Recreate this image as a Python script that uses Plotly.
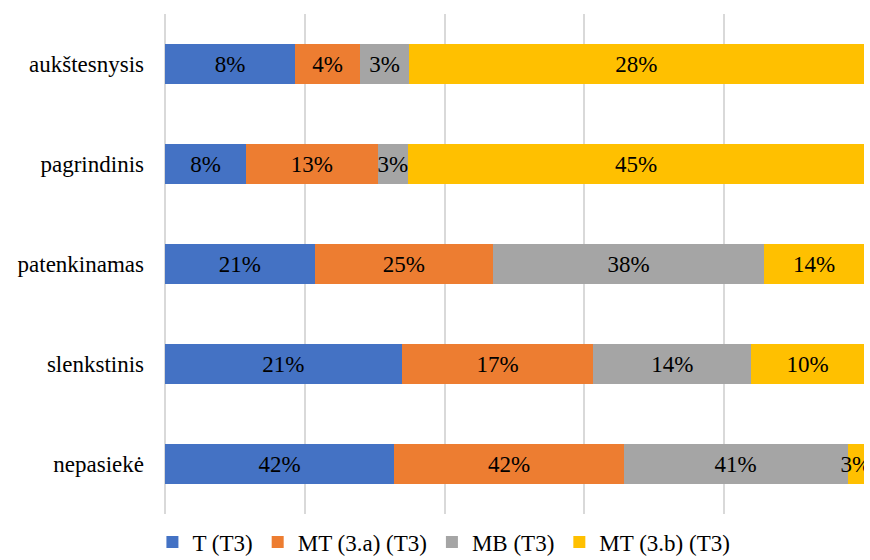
import plotly.graph_objects as go

categories = ["aukštesnysis", "pagrindinis", "patenkinamas", "slenkstinis", "nepasiekė"]
series_names = ["T (T3)", "MT (3.a) (T3)", "MB (T3)", "MT (3.b) (T3)"]
t_vals = [8, 8, 21, 21, 42]
mta_vals = [4, 13, 25, 17, 42]
mb_vals = [3, 3, 38, 14, 41]
mtb_vals = [28, 45, 14, 10, 3]
colors = ["#4472C4", "#ED7D31", "#A5A5A5", "#FFC000"]

FONT = "Liberation Serif"
FS = 23

fig = go.Figure()
for name, vals, col in zip(series_names, [t_vals, mta_vals, mb_vals, mtb_vals], colors):
    fig.add_trace(go.Bar(
        y=categories, x=vals, name=name, orientation="h",
        marker=dict(color=col, line=dict(width=0)),
        text=[f"{v}%" for v in vals], textposition="inside", textangle=0,
        insidetextanchor="middle", constraintext="none",
        textfont=dict(family=FONT, size=FS, color="#000000"),
    ))

fig.update_layout(
    barmode="stack", barnorm="percent", bargap=0.6,
    width=870, height=560,
    margin=dict(l=165, r=6, t=14, b=46, autoexpand=False),
    paper_bgcolor="white", plot_bgcolor="white",
    font=dict(family=FONT, size=FS, color="#000000"),
    uniformtext=dict(minsize=FS, mode="show"),
    xaxis=dict(range=[0, 100], dtick=20, showticklabels=False, showgrid=True,
               gridcolor="#D9D9D9", gridwidth=2, zeroline=True, zerolinecolor="#D9D9D9",
               zerolinewidth=2, showline=False, fixedrange=True),
    yaxis=dict(autorange="reversed", showgrid=False, ticks="", ticklabelstandoff=20,
               tickfont=dict(family=FONT, size=FS, color="#000000")),
    legend=dict(orientation="h", x=-0.018, xanchor="left", y=-0.056, yanchor="middle",
                font=dict(family=FONT, size=FS, color="#000000"),
                traceorder="normal", itemwidth=30, tracegroupgap=0),
    showlegend=True,
)

fig.write_html("out.html")
